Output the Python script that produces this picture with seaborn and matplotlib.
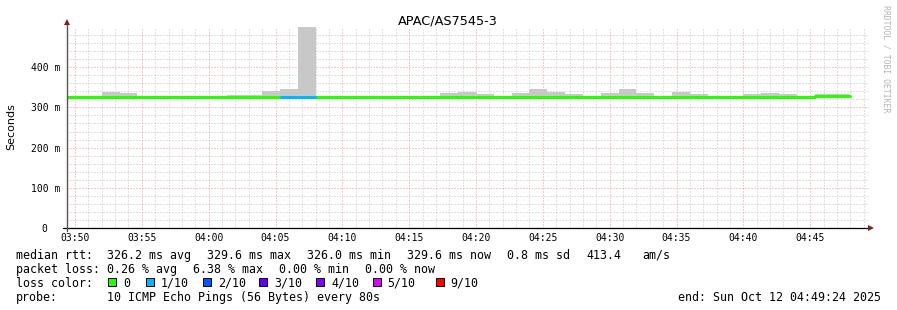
import matplotlib
matplotlib.use("Agg")
import matplotlib.pyplot as plt
import matplotlib.dates as mdates
from matplotlib.patches import Rectangle
import numpy as np
import pandas as pd
import seaborn as sns

# ---------------- data ----------------
title = "APAC/AS7545-3"
start_time = "2025-10-12 03:49:24"
end_time = "2025-10-12 04:49:24"
first_bin_time = "2025-10-12 03:49:20"
step_seconds = 80

median_ms = [326.0, 326.0, 326.0, 326.0, 326.0, 326.0, 326.0, 326.0, 326.0, 326.0,
             326.0, 326.0, 326.0, 326.0, 326.0, 326.0, 326.0, 326.0, 326.0, 326.0,
             326.0, 326.0, 326.0, 326.0, 326.0, 326.0, 326.0, 326.0, 326.0, 326.0,
             326.0, 326.0, 326.0, 326.0, 326.0, 326.0, 326.0, 326.0, 326.0, 326.0,
             326.0, 326.0, 329.6, 329.6]
smoke_top_ms = [326, 326, 338, 335, 326, 326, 326, 326, 326, 332,
                332, 341, 345, 520, 326, 326, 326, 326, 326, 326,
                326, 336, 339, 333, 326, 336, 345, 338, 333, 326,
                335, 345, 336, 326, 338, 333, 326, 326, 333, 335,
                333, 326, 334, 334]
smoke_min_ms = 325.0
loss_of_10 = [0, 0, 0, 0, 0, 0, 0, 0, 0, 0,
              0, 0, 1, 1, 0, 0, 0, 0, 0, 0,
              0, 0, 0, 0, 0, 0, 0, 0, 0, 0,
              0, 0, 0, 0, 0, 0, 0, 0, 0, 0,
              0, 0, 0, 0]

loss_labels = ["0", "1/10", "2/10", "3/10", "4/10", "5/10", "9/10"]
loss_colors = ["#26ff00", "#00b8ff", "#0059ff", "#5e00ff", "#7e00ff", "#dd00ff", "#ff0000"]
loss_color_map = {0: "#26ff00", 1: "#00b8ff", 2: "#0059ff", 3: "#5e00ff",
                  4: "#7e00ff", 5: "#dd00ff", 9: "#ff0000"}

y_ticks = [0, 100, 200, 300, 400]
y_tick_labels = ["0  ", "100 m", "200 m", "300 m", "400 m"]

stats_rtt = ["326.2 ms avg", "329.6 ms max", "326.0 ms min", "329.6 ms now",
             "0.8 ms sd", "413.4", "am/s"]
stats_loss = ["0.26 % avg", "6.38 % max", "0.00 % min", "0.00 % now"]
probe_text = "10 ICMP Echo Pings (56 Bytes) every 80s"
end_text = "end: Sun Oct 12 04:49:24 2025"

# ---------------- figure ----------------
W, H = 897, 310
sns.set_theme(style="white")
plt.rcParams["font.family"] = ["DejaVu Sans"]
MONO = "DejaVu Sans Mono"

fig = plt.figure(figsize=(W / 100, H / 100), dpi=100)
fig.patch.set_facecolor("white")

def fx(px):
    return px / W

def fy(py):
    return 1 - py / H

ax = fig.add_axes([fx(67), fy(228), (869 - 67) / W, (228 - 27) / H])
ax.set_facecolor("white")

t_start = pd.Timestamp(start_time)
t_end = pd.Timestamp(end_time)
n = len(median_ms)
bin_starts = pd.date_range(pd.Timestamp(first_bin_time), periods=n, freq=f"{step_seconds}s")
bin_w = step_seconds / 86400.0
xs = mdates.date2num(bin_starts.to_pydatetime())

df = pd.DataFrame({"time": bin_starts, "median": median_ms,
                   "smoke_top": smoke_top_ms, "loss": loss_of_10})

# grid
ax.set_xlim(mdates.date2num(t_start.to_pydatetime()), mdates.date2num(t_end.to_pydatetime()))
ax.set_ylim(0, 500)
ax.xaxis.set_major_locator(mdates.MinuteLocator(byminute=range(0, 60, 5)))
ax.xaxis.set_minor_locator(mdates.MinuteLocator(byminute=range(0, 60, 1)))
ax.xaxis.set_major_formatter(mdates.DateFormatter("%H:%M"))
ax.set_yticks(y_ticks)
ax.set_yticklabels(y_tick_labels)
ax.set_yticks(np.arange(0, 500, 20), minor=True)
ax.grid(which="minor", color="#c4c4c4", linewidth=0.72, linestyle=(0, (1, 2)))
ax.grid(which="major", color="#f29595", linewidth=0.72, linestyle=(0, (1, 2)))
ax.set_axisbelow(True)

# smoke
mask = df["smoke_top"] > df["median"] + 0.5
ax.bar(xs[mask.values], (df["smoke_top"][mask] - smoke_min_ms).values, bottom=smoke_min_ms,
       width=bin_w, align="edge", color="#c8c8c8", linewidth=0, zorder=2)

# median line (steps)
line_x = list(bin_starts) + [bin_starts[-1] + pd.Timedelta(seconds=step_seconds)]
line_y = list(median_ms) + [median_ms[-1]]
sns.lineplot(x=line_x, y=line_y, drawstyle="steps-post", color=loss_color_map[0],
             linewidth=2.16, ax=ax, estimator=None, zorder=3)
for xi, m, l in zip(xs, median_ms, loss_of_10):
    if l > 0:
        ax.hlines(m, xi, xi + bin_w, colors=loss_color_map[l], linewidth=2.16, zorder=4)

# axes styling
for s in ax.spines.values():
    s.set_visible(False)
ax.tick_params(axis="both", which="both", length=0)
ax.tick_params(axis="x", pad=3.5)
ax.tick_params(axis="y", pad=5)
for lab in ax.get_xticklabels() + ax.get_yticklabels():
    lab.set_fontfamily(MONO)
    lab.set_fontsize(7)
    lab.set_color("#000000")
ax.set_xlabel("")
ax.set_ylabel("")

# axis lines with arrows
tr = fig.transFigure
fig.add_artist(plt.Line2D([fx(63), fx(869)], [fy(228), fy(228)], color="#000000", lw=0.9, transform=tr))
fig.add_artist(plt.Line2D([fx(67), fx(67)], [fy(231), fy(24)], color="#555555", lw=1.0, transform=tr))
fig.add_artist(plt.Line2D([fx(871)], [fy(228)], marker=">", markersize=4.5, color="#8b1a1a",
                          markeredgewidth=0, transform=tr))
fig.add_artist(plt.Line2D([fx(67)], [fy(22)], marker="^", markersize=4.5, color="#8b1a1a",
                          markeredgewidth=0, transform=tr))

# title and labels
fig.text(fx(448), fy(24), title, ha="center", va="baseline", fontsize=9.3,
         family="DejaVu Sans", color="#000000")
fig.text(fx(11), fy(127), "Seconds", ha="center", va="center", rotation=90,
         fontsize=8, family="DejaVu Sans", color="#000000")
fig.text(fx(886), fy(5), "RRDTOOL / TOBI OETIKER", ha="center", va="top", rotation=270,
         fontsize=5.9, family=MONO, color="#b4b4b4")

# legend / stats
FS = 8.4
def t(x, yb, s):
    fig.text(fx(x), fy(yb), s, ha="left", va="baseline", fontsize=FS, family=MONO, color="#000000")

t(16, 259, "median rtt:")
for x, s in zip([107, 207, 307, 406.5, 507, 586, 642.5], stats_rtt):
    t(x, 259, s)
t(16, 273, "packet loss:")
for x, s in zip([107, 193.3, 279.3, 365.3], stats_loss):
    t(x, 273, s)
t(16, 287, "loss color:")
sq_x = [108.3, 145.7, 202.7, 259.3, 316, 372.7, 436]
lab_x = [123.3, 160.7, 217.7, 274.3, 331, 387.7, 450]
for sx, lx, c, lab in zip(sq_x, lab_x, loss_colors, loss_labels):
    fig.patches.append(Rectangle((fx(sx), fy(286)), 8 / W, 8 / H, transform=tr,
                                 facecolor=c, edgecolor="#000000", linewidth=0.7))
    t(lx, 287, lab)
t(16, 301, "probe:")
t(107, 301, probe_text)
t(678, 301, end_text)

fig.savefig("out.png", dpi=100, facecolor="white")
